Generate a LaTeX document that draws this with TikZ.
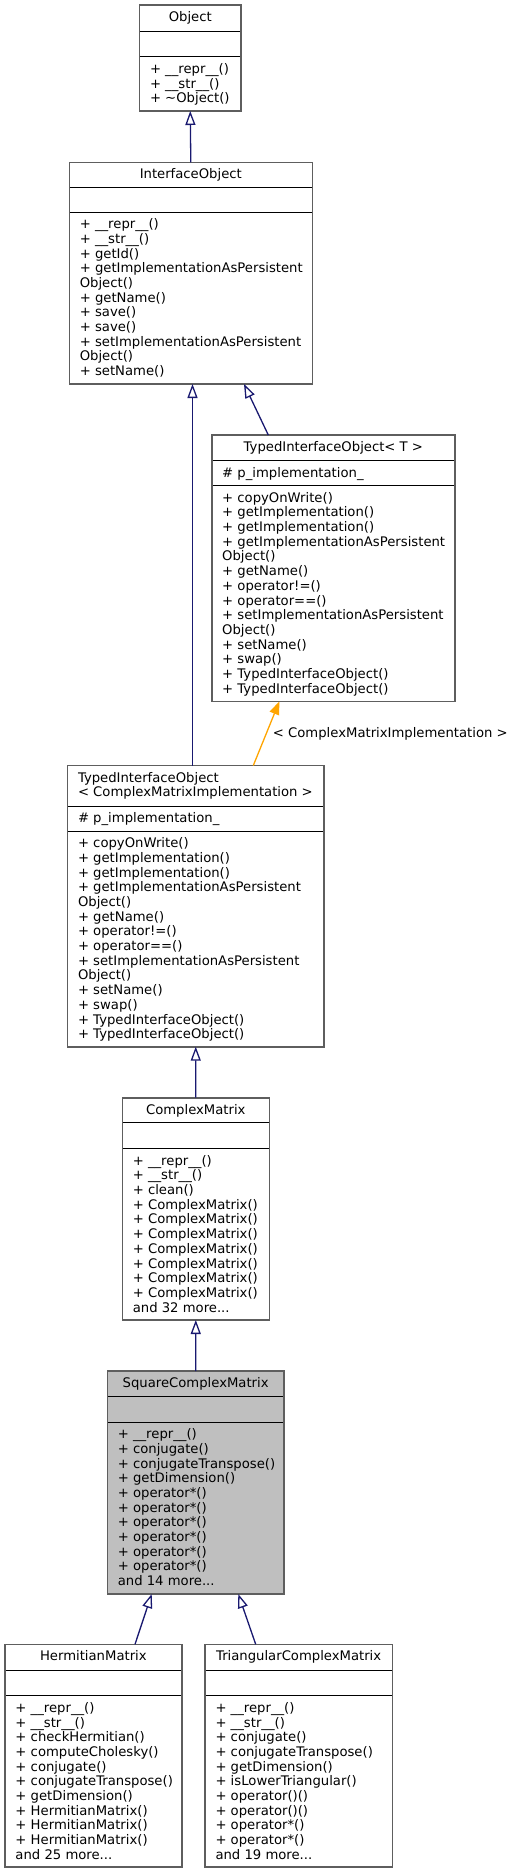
\documentclass[tikz,border=0pt]{standalone}
\usepackage{fontspec}
\setmainfont{DejaVu Sans}
\usetikzlibrary{arrows.meta}
\definecolor{edgeblue}{HTML}{191970}
\definecolor{boxgray}{HTML}{5E5E5E}
\definecolor{selgray}{HTML}{BFBFBF}
\definecolor{tplorange}{HTML}{FFA500}
\newcommand{\mydots}{...}
\tikzset{
  classbox/.style={draw=boxgray, line width=1.6pt, inner sep=0pt, outer sep=0pt, anchor=north west},
  sepline/.style={draw=black, line width=1pt},
  txt/.style={inner sep=0pt, outer sep=0pt, anchor=base west, font=\fontsize{13.2}{14.7}\selectfont},
  ttl/.style={inner sep=0pt, outer sep=0pt, anchor=base, font=\fontsize{13.2}{14.7}\selectfont},
  inh/.style={draw=edgeblue, line width=1.3pt, -{Triangle[open, length=14pt, width=10pt, line width=1.3pt]}},
  tpl/.style={draw=tplorange, line width=1.3pt, -{Triangle[length=13pt, width=10pt]}},
}
% #1 fill, #2 name, #3 L, #4 R, #5 T, #6 S1, #7 S2, #8 B
\newcommand{\umlbox}[8][white]{%
  \pgfmathsetmacro{\bw}{#4-#3}\pgfmathsetmacro{\bh}{#8-#5}%
  \node[classbox, fill=#1, minimum width=\bw pt, minimum height=\bh pt] (#2) at (#3,#5) {};
  \draw[sepline] (#2.west |- 0,#6) -- (#2.east |- 0,#6);
  \draw[sepline] (#2.west |- 0,#7) -- (#2.east |- 0,#7);
  \draw[draw=boxgray, line width=1.6pt] (#2.north west) rectangle (#2.south east);
}
% #1 prefix, #2 x, #3 first baseline, #4 list
\newcommand{\members}[4]{%
  \foreach \t [count=\i from 0] in {#4} {
    \node[txt] (#1-\i) at ({#2},{#3+\i*14.7}) {\t};
  }
}
\begin{document}
\begin{tikzpicture}[x=1pt, y=-1pt]
\useasboundingbox[fill=white] (0,0) rectangle (512,1873);

% Object
\umlbox{obj}{139.5}{241}{5.3}{31.5}{56.8}{111}
\node[ttl] (obj-t) at (190.25,21.9) {Object};
\members{objm}{150}{73.4}{+ \_\_repr\_\_(), + \_\_str\_\_(), + \textasciitilde Object()}

% InterfaceObject
\umlbox{io}{69.3}{312.3}{162.3}{187}{212}{384}
\node[ttl] (io-t) at (190.8,178.9) {InterfaceObject};
\members{iom}{79.8}{228.6}{+ \_\_repr\_\_(), + \_\_str\_\_(), + getId(), + getImplementationAsPersistent, Object(), + getName(), + save(), + save(), + setImplementationAsPersistent, Object(), + setName()}

% TypedInterfaceObject< T >
\umlbox{tiot}{211.7}{455}{435}{460.5}{485.5}{701.5}
\node[ttl] (tiot-t) at (333.35,451.6) {TypedInterfaceObject< T >};
\node[txt] (tiot-a) at (222.2,477.1) {\# p\_implementation\_};
\members{tiotm}{222.2}{502.1}{+ copyOnWrite(), + getImplementation(), + getImplementation(), + getImplementationAsPersistent, Object(), + getName(), + operator!=(), + operator==(), + setImplementationAsPersistent, Object(), + setName(), + swap(), + TypedInterfaceObject(), + TypedInterfaceObject()}

% TypedInterfaceObject< ComplexMatrixImplementation >
\umlbox{tioc}{67.5}{324}{765.5}{806}{831}{1046.7}
\node[txt] (tioc-t1) at (78,782.1) {TypedInterfaceObject};
\node[txt] (tioc-t2) at (78,796.8) {< ComplexMatrixImplementation >};
\node[txt] (tioc-a) at (78,822.6) {\# p\_implementation\_};
\members{tiocm}{78}{847.6}{+ copyOnWrite(), + getImplementation(), + getImplementation(), + getImplementationAsPersistent, Object(), + getName(), + operator!=(), + operator==(), + setImplementationAsPersistent, Object(), + setName(), + swap(), + TypedInterfaceObject(), + TypedInterfaceObject()}

% ComplexMatrix
\umlbox{cm}{122.3}{269.3}{1097.7}{1122.9}{1148.5}{1320}
\node[ttl] (cm-t) at (195.8,1114.3) {ComplexMatrix};
\members{cmm}{132.8}{1165.1}{+ \_\_repr\_\_(), + \_\_str\_\_(), + clean(), + ComplexMatrix(), + ComplexMatrix(), + ComplexMatrix(), + ComplexMatrix(), + ComplexMatrix(), + ComplexMatrix(), + ComplexMatrix(), and 32 more\mydots}

% SquareComplexMatrix
\umlbox[selgray]{scm}{107.3}{284}{1371}{1396.5}{1422}{1594}
\node[ttl] (scm-t) at (195.65,1387.6) {SquareComplexMatrix};
\members{scmm}{117.8}{1438.6}{+ \_\_repr\_\_(), + conjugate(), + conjugateTranspose(), + getDimension(), + operator*(), + operator*(), + operator*(), + operator*(), + operator*(), + operator*(), and 14 more\mydots}

% HermitianMatrix
\umlbox{hm}{5}{181.7}{1644.3}{1670}{1695.7}{1866.7}
\node[ttl] (hm-t) at (93.35,1660.9) {HermitianMatrix};
\members{hmm}{15.5}{1712.3}{+ \_\_repr\_\_(), + \_\_str\_\_(), + checkHermitian(), + computeCholesky(), + conjugate(), + conjugateTranspose(), + getDimension(), + HermitianMatrix(), + HermitianMatrix(), + HermitianMatrix(), and 25 more\mydots}

% TriangularComplexMatrix
\umlbox{tcm}{205}{392.3}{1644.3}{1670}{1695.7}{1866.7}
\node[ttl] (tcm-t) at (298.65,1660.9) {TriangularComplexMatrix};
\members{tcmm}{215.5}{1712.3}{+ \_\_repr\_\_(), + \_\_str\_\_(), + conjugate(), + conjugateTranspose(), + getDimension(), + isLowerTriangular(), + operator()(), + operator()(), + operator*(), + operator*(), and 19 more\mydots}

% connectors
\draw[inh] (io.north) -- (obj.south);
\draw[inh] ([xshift=125pt]tioc.north west) -- ([xshift=123.2pt]io.south west);
\draw[inh] ([xshift=56.6pt]tiot.north west) -- ([xshift=174.7pt]io.south west);
\draw[tpl] ([xshift=185.8pt]tioc.north west) -- ([xshift=67.6pt]tiot.south west)
  node[pos=0.5, right=6pt, inner sep=0pt, font=\fontsize{13.2}{14.7}\selectfont] (tpl-lbl) {< ComplexMatrixImplementation >};
\draw[inh] (cm.north) -- (tioc.south);
\draw[inh] (scm.north) -- (cm.south);
\draw[inh] ([xshift=130pt]hm.north west) -- ([xshift=44.4pt]scm.south west);
\draw[inh] ([xshift=50.7pt]tcm.north west) -- ([xshift=131pt]scm.south west);
\end{tikzpicture}
\end{document}
